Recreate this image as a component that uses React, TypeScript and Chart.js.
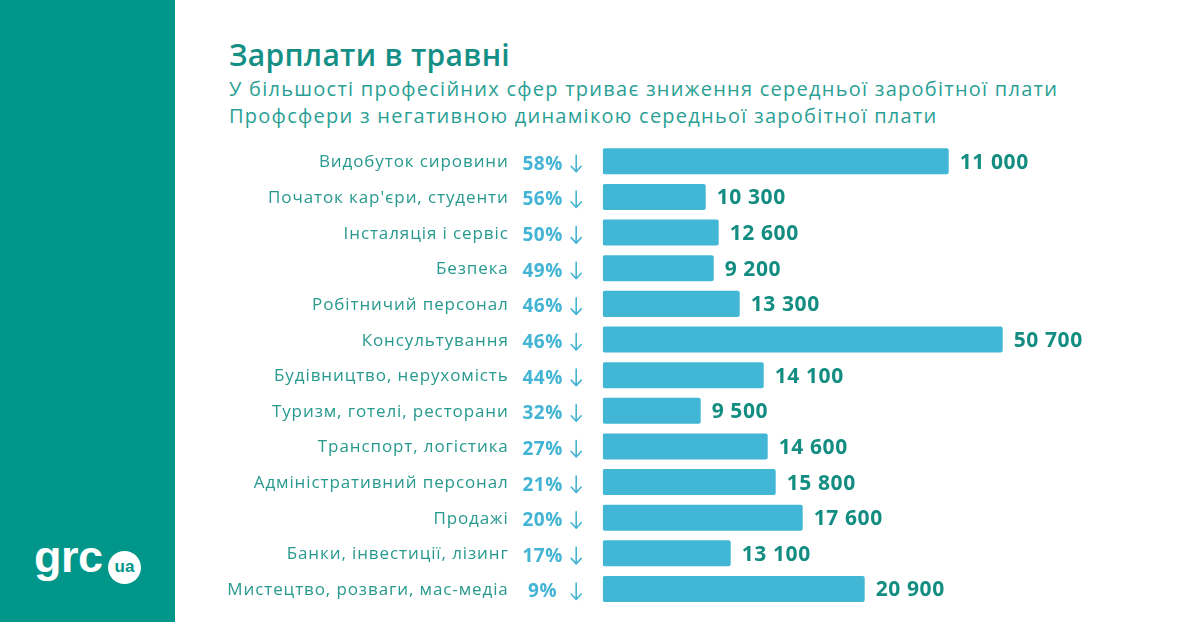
import React, { useEffect, useRef } from "react";
import { Chart, registerables } from "chart.js";

Chart.register(...registerables);

const categories = [
  "Видобуток сировини",
  "Початок кар'єри, студенти",
  "Інсталяція і сервіс",
  "Безпека",
  "Робітничий персонал",
  "Консультування",
  "Будівництво, нерухомість",
  "Туризм, готелі, ресторани",
  "Транспорт, логістика",
  "Адміністративний персонал",
  "Продажі",
  "Банки, інвестиції, лізинг",
  "Мистецтво, розваги, мас-медіа",
];

// bar lengths as drawn in the reference (relative units, axis 0..500)
const barLengths = [346, 103, 116, 111, 137, 400, 161, 98, 165, 173, 200, 128, 262];

// average salary shown next to each bar
const salaries = [11000, 10300, 12600, 9200, 13300, 50700, 14100, 9500, 14600, 15800, 17600, 13100, 20900];

// decline share, %
const declines = [58, 56, 50, 49, 46, 46, 44, 32, 27, 21, 20, 17, 9];

const TEAL = "#009689";
const BAR = "#42b6d5";
const VALUE = "#138d81";
const CAT = "#27998e";
const PCT = "#43b4d4";

const fmt = (v: number) => String(v).replace(/\B(?=(\d{3})+(?!\d))/g, " ");

const rowLabels = {
  id: "rowLabels",
  afterDatasetsDraw(chart: any) {
    const { ctx, chartArea } = chart;
    const meta = chart.getDatasetMeta(0);
    const left = chartArea.left;
    meta.data.forEach((bar: any, i: number) => {
      const y = bar.y;
      ctx.save();
      ctx.textBaseline = "alphabetic";
      // category
      ctx.font = '400 17px "Open Sans"';
      (ctx as any).letterSpacing = "0.9px";
      ctx.fillStyle = CAT;
      ctx.textAlign = "right";
      ctx.fillText(categories[i], left - 94, y + 6);
      // percent
      ctx.font = '700 19px "Open Sans"';
      (ctx as any).letterSpacing = "0.6px";
      ctx.fillStyle = PCT;
      ctx.textAlign = "center";
      ctx.fillText(declines[i] + "%", left - 60, y + 8.5);
      // arrow
      (ctx as any).letterSpacing = "0px";
      const ax = left - 26.5;
      ctx.strokeStyle = PCT;
      ctx.lineWidth = 1.6;
      ctx.lineCap = "round";
      ctx.lineJoin = "round";
      ctx.beginPath();
      ctx.moveTo(ax, y - 6);
      ctx.lineTo(ax, y + 10.5);
      ctx.moveTo(ax - 5, y + 5);
      ctx.lineTo(ax, y + 10.5);
      ctx.lineTo(ax + 5, y + 5);
      ctx.stroke();
      // value
      ctx.font = '700 21px "Open Sans"';
      (ctx as any).letterSpacing = "0.6px";
      ctx.fillStyle = VALUE;
      ctx.textAlign = "left";
      ctx.fillText(fmt(salaries[i]), bar.x + 11, y + 7.5);
      ctx.restore();
    });
  },
};

export default function App() {
  const ref = useRef<HTMLCanvasElement | null>(null);

  useEffect(() => {
    if (!ref.current) return;
    const chart = new Chart(ref.current, {
      type: "bar",
      data: {
        labels: categories,
        datasets: [
          {
            data: barLengths,
            backgroundColor: BAR,
            borderRadius: 2,
            borderSkipped: false,
            categoryPercentage: 1,
            barPercentage: 0.73,
          },
        ],
      },
      options: {
        indexAxis: "y",
        animation: false,
        responsive: true,
        maintainAspectRatio: false,
        layout: { padding: { left: 427.7, right: 97.3, top: 3.5, bottom: 15.2 } },
        scales: {
          x: { display: false, min: 0, max: 500 },
          y: { display: false },
        },
        plugins: {
          legend: { display: false },
          tooltip: { enabled: false },
        },
      },
      plugins: [rowLabels],
    });
    return () => chart.destroy();
  }, []);

  const font = '"Open Sans", sans-serif';

  return (
    <div
      style={{
        position: "absolute",
        left: 0,
        top: 0,
        width: 1200,
        height: 622,
        background: "#ffffff",
        overflow: "hidden",
        fontFamily: font,
      }}
    >
      <div style={{ position: "absolute", left: 0, top: 0, width: 175, height: 622, background: TEAL }} />
      <div
        style={{
          position: "absolute",
          left: 34,
          top: 534,
          fontFamily: '"Liberation Sans", Arial, sans-serif',
          fontWeight: 700,
          fontSize: 45,
          lineHeight: 1,
          color: "#ffffff",
          letterSpacing: "-0.5px",
        }}
      >
        grc
      </div>
      <div
        style={{
          position: "absolute",
          left: 108,
          top: 550.5,
          width: 33,
          height: 33,
          borderRadius: "50%",
          background: "#ffffff",
          color: TEAL,
          display: "flex",
          alignItems: "center",
          justifyContent: "center",
          fontFamily: '"Liberation Sans", Arial, sans-serif',
          fontWeight: 700,
          fontSize: 17,
          lineHeight: 1,
        }}
      >
        <span style={{ marginTop: -2 }}>ua</span>
      </div>
      <div
        style={{
          position: "absolute",
          left: 229,
          top: 40,
          fontSize: 30,
          fontWeight: 600,
          lineHeight: 1,
          color: "#148f85",
          whiteSpace: "nowrap",
          letterSpacing: "0.3px",
        }}
      >
        Зарплати в травні
      </div>
      <div
        style={{
          position: "absolute",
          left: 229,
          top: 79,
          fontSize: 20,
          fontWeight: 400,
          lineHeight: 1,
          color: "#2a9f95",
          whiteSpace: "nowrap",
          letterSpacing: "1.25px",
        }}
      >
        У більшості професійних сфер триває зниження середньої заробітної плати
      </div>
      <div
        style={{
          position: "absolute",
          left: 229,
          top: 105.6,
          fontSize: 20,
          fontWeight: 400,
          lineHeight: 1,
          color: "#2a9f95",
          whiteSpace: "nowrap",
          letterSpacing: "1.25px",
        }}
      >
        Профсфери з негативною динамікою середньої заробітної плати
      </div>
      <div style={{ position: "absolute", left: 175, top: 140, width: 1025, height: 482 }}>
        <canvas ref={ref} />
      </div>
    </div>
  );
}
